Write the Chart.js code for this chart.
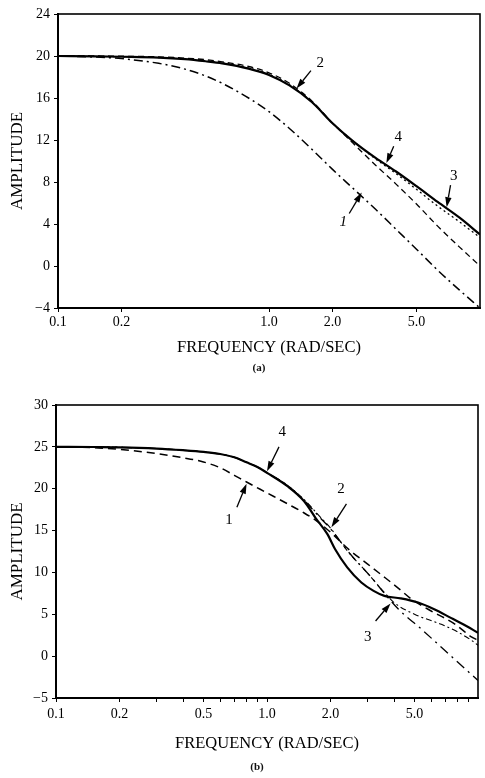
<!DOCTYPE html>
<html><head><meta charset="utf-8">
<script src="https://cdn.jsdelivr.net/npm/chart.js@4"></script>
<style>
html,body{margin:0;padding:0;background:#fff;}
#wrap{position:relative;width:485px;height:778px;overflow:hidden;background:#fff;}
canvas{position:absolute;left:0;}
.cap{position:absolute;font-family:"Liberation Serif","DejaVu Serif",serif;font-size:11px;font-weight:bold;transform:translateX(-50%);color:#111;}
</style></head><body>
<div id="wrap">
<canvas id="ca" width="485" height="380" style="top:0"></canvas>
<canvas id="cb" width="485" height="398" style="top:380px"></canvas>
<div class="cap" style="left:259px;top:361px">(a)</div>
<div class="cap" style="left:257px;top:760px">(b)</div>
</div>
<script>
// ---------- Chart (a) data ----------
const aFreq  = [0.1,0.15,0.2,0.3,0.4,0.5,0.6,0.8,1.0,1.25,1.6,2.0,2.5,3.2,4.0,5.0,6.3,8.0,10];
const a1Amp  = [20,19.9,19.75,19.3,18.75,18.1,17.4,16.0,14.7,13.1,11.1,9.2,7.4,5.4,3.5,1.6,-0.4,-2.3,-4.0];
const a2Amp  = [20,20,19.98,19.92,19.8,19.65,19.45,19.0,18.4,17.4,15.7,13.6,11.7,9.6,7.8,5.9,3.8,1.8,0];
const a3Amp  = [20,19.97,19.93,19.85,19.75,19.55,19.35,18.85,18.25,17.25,15.6,13.6,11.9,10.2,8.8,7.3,5.7,4.2,2.7];
const a4Amp  = [20,19.97,19.93,19.85,19.7,19.5,19.3,18.8,18.2,17.2,15.6,13.6,11.9,10.3,9.0,7.6,6.1,4.6,3.0];
const aTickValues = [0.1,0.2,1.0,2.0,5.0];
const aTickLabels = ["0.1","0.2","1.0","2.0","5.0"];
const aYTicks = [-4,0,4,8,12,16,20,24];

// ---------- Chart (b) data ----------
const b1Freq = [0.1,0.15,0.2,0.3,0.4,0.5,0.6,0.7,0.8,1.0,1.25,1.5,1.73,2.0,2.48,3.0,3.45,4.2,4.85,5.8,7.8,9.3,10];
const b1Amp  = [25,24.9,24.7,24.2,23.7,23.2,22.5,21.6,20.8,19.5,18.2,17.1,16.1,14.8,12.6,11.0,9.8,8.1,6.8,5.6,3.8,2.3,1.9];
const b2Freq = [0.1,0.15,0.2,0.3,0.4,0.5,0.6,0.7,0.8,0.9,1.0,1.25,1.5,1.79,2.0,2.4,3.0,3.6,4.0,5.0,6.7,8.0,9.3,10];
const b2Amp  = [25,24.98,24.95,24.8,24.6,24.4,24.15,23.75,23.15,22.6,21.9,20.4,18.7,16.6,15.3,12.6,9.9,7.6,6.4,5.0,3.8,2.9,1.9,1.3];
const b3Freq = [0.1,0.15,0.2,0.3,0.4,0.5,0.6,0.7,0.8,0.9,1.0,1.25,1.5,1.79,2.0,2.48,3.15,3.6,4.2,5.35,6.95,8.5,10];
const b3Amp  = [25,24.98,24.95,24.8,24.6,24.4,24.15,23.75,23.15,22.6,21.9,20.4,18.6,16.5,15.2,12.2,9.3,7.5,5.6,3.3,0.7,-1.3,-2.9];
const b4Freq = [0.1,0.15,0.2,0.3,0.4,0.5,0.6,0.7,0.8,0.9,1.0,1.25,1.5,1.7,1.93,2.1,2.4,2.8,3.2,3.6,4.3,5.2,6.2,7.4,8.5,10];
const b4Amp  = [25,24.98,24.95,24.8,24.6,24.4,24.15,23.75,23.15,22.6,21.9,20.3,18.5,16.5,14.6,12.8,10.6,8.8,7.8,7.2,6.9,6.4,5.6,4.6,3.8,2.8];
const bTickValues = [0.1,0.2,0.5,1.0,2.0,5.0];
const bTickLabels = ["0.1","0.2","0.5","1.0","2.0","5.0"];
const bMinorTicks = [0.3,0.4,0.6,0.7,0.8,0.9,3,4,6,7,8,9];
const bYTicks = [-5,0,5,10,15,20,25,30];

// curve labels with arrows (data coordinates)
const notesA = [
  {t:"2", lx:1.75, ly:19.3, sx:1.58, sy:18.6, tx:1.35, ty:16.9},
  {t:"4", lx:4.1,  ly:12.3, sx:3.9,  sy:11.4, tx:3.6,  ty:9.8},
  {t:"3", lx:7.5,  ly:8.6,  sx:7.25, sy:7.7,  tx:6.95, ty:5.6},
  {t:"1", lx:2.25, ly:4.2,  sx:2.4,  sy:5.0,  tx:2.75, ty:7.0, italic:true}
];
const notesB = [
  {t:"4", lx:1.18, ly:26.8, sx:1.14, sy:25.0, tx:1.0,  ty:22.1},
  {t:"1", lx:0.66, ly:16.2, sx:0.72, sy:17.8, tx:0.8,  ty:20.6},
  {t:"2", lx:2.24, ly:20.0, sx:2.38, sy:18.2, tx:2.02, ty:15.4},
  {t:"3", lx:3.0,  ly:2.3,  sx:3.27, sy:4.2,  tx:3.85, ty:6.3}
];

const SERIF = '"Liberation Serif","DejaVu Serif",serif';
const pts = (f, v) => f.map((x, i) => ({x: x, y: v[i]}));

const framePlugin = {
  id: 'frame',
  afterDatasetsDraw(chart) {
    const {ctx, chartArea: a} = chart;
    ctx.save();
    ctx.strokeStyle = '#000';
    ctx.lineWidth = 1.6;
    ctx.strokeRect(a.left, a.top, a.right - a.left, a.bottom - a.top);
    ctx.restore();
  }
};
const notePlugin = {
  id: 'notes',
  afterDatasetsDraw(chart, args, opts) {
    const ctx = chart.ctx, xs = chart.scales.x, ys = chart.scales.y;
    ctx.save();
    (opts.items || []).forEach(n => {
      const sx = xs.getPixelForValue(n.sx), sy = ys.getPixelForValue(n.sy);
      const tx = xs.getPixelForValue(n.tx), ty = ys.getPixelForValue(n.ty);
      const ang = Math.atan2(ty - sy, tx - sx);
      const L = 10, W = 3.2;
      const bx = tx - L * Math.cos(ang), by = ty - L * Math.sin(ang);
      ctx.strokeStyle = '#000'; ctx.fillStyle = '#000'; ctx.lineWidth = 1.3;
      ctx.beginPath(); ctx.moveTo(sx, sy); ctx.lineTo(bx, by); ctx.stroke();
      ctx.beginPath();
      ctx.moveTo(tx, ty);
      ctx.lineTo(bx + W * Math.sin(ang), by - W * Math.cos(ang));
      ctx.lineTo(bx - W * Math.sin(ang), by + W * Math.cos(ang));
      ctx.closePath(); ctx.fill();
      ctx.font = (n.italic ? 'italic ' : '') + '15px ' + SERIF;
      ctx.textAlign = 'center'; ctx.textBaseline = 'middle';
      ctx.fillText(n.t, xs.getPixelForValue(n.lx), ys.getPixelForValue(n.ly));
    });
    ctx.restore();
  }
};

function makeChart(id, datasets, o) {
  return new Chart(document.getElementById(id), {
    type: 'line',
    data: {datasets: datasets},
    plugins: [framePlugin, notePlugin],
    options: {
      responsive: false, animation: false, devicePixelRatio: 1,
      layout: {padding: o.pad},
      elements: {point: {radius: 0}, line: {tension: 0.4, cubicInterpolationMode: 'monotone', borderColor: '#000', fill: false}},
      plugins: {legend: {display: false}, tooltip: {enabled: false}, notes: {items: o.notes}},
      scales: {
        x: {
          type: 'logarithmic', min: 0.1, max: 10,
          afterFit: s => { s.height = o.xh; },
          afterBuildTicks: s => { s.ticks = o.xTicks.concat(o.xMinor).sort((p, q) => p - q).map(v => ({value: v})); },
          ticks: {
            autoSkip: false, maxRotation: 0, padding: o.xpad, color: '#000',
            font: {family: SERIF, size: 14},
            callback: v => { const i = o.xTicks.indexOf(v); return i >= 0 ? o.xLabels[i] : ''; }
          },
          grid: {display: true, drawOnChartArea: false, drawTicks: true, tickLength: 4, color: '#000'},
          border: {display: true, color: '#000', width: 2},
          title: {display: true, text: 'FREQUENCY (RAD/SEC)', color: '#000', font: {family: SERIF, size: 16.5}, padding: {top: 0, bottom: 0}}
        },
        y: {
          type: 'linear', min: o.ymin, max: o.ymax,
          afterFit: s => { s.width = o.yw; },
          afterBuildTicks: s => { s.ticks = o.yTicks.map(v => ({value: v})); },
          ticks: {
            padding: 4, color: '#000', font: {family: SERIF, size: 14},
            callback: v => (v < 0 ? '\u2212' + Math.abs(v) : String(v))
          },
          grid: {display: true, drawOnChartArea: false, drawTicks: true, tickLength: 4, color: '#000'},
          border: {display: true, color: '#000', width: 2},
          title: {display: true, text: 'AMPLITUDE', color: '#000', font: {family: SERIF, size: 17}, padding: {top: 7, bottom: 0}}
        }
      }
    }
  });
}

makeChart('ca', [
  {label: '1', data: pts(aFreq, a1Amp), borderWidth: 1.5, borderDash: [9, 4, 2, 4]},
  {label: '2', data: pts(aFreq, a2Amp), borderWidth: 1.3, borderDash: [6, 4]},
  {label: '3', data: pts(aFreq, a3Amp), borderWidth: 1.3, borderDash: [2, 3]},
  {label: '4', data: pts(aFreq, a4Amp), borderWidth: 2.2}
], {pad: {left: 0, right: 5, top: 14, bottom: 22}, xh: 50, yw: 58, xpad: 2,
    ymin: -4, ymax: 24, yTicks: aYTicks, xTicks: aTickValues, xLabels: aTickLabels, xMinor: [], notes: notesA});

makeChart('cb', [
  {label: '1', data: pts(b1Freq, b1Amp), borderWidth: 1.5, borderDash: [8, 5]},
  {label: '2', data: pts(b2Freq, b2Amp), borderWidth: 1.1, borderDash: [6, 3, 2, 3]},
  {label: '3', data: pts(b3Freq, b3Amp), borderWidth: 1.3, borderDash: [10, 5, 2, 5]},
  {label: '4', data: pts(b4Freq, b4Amp), borderWidth: 2.2}
], {pad: {left: 0, right: 7, top: 25, bottom: 24}, xh: 56, yw: 56, xpad: 4,
    ymin: -5, ymax: 30, yTicks: bYTicks, xTicks: bTickValues, xLabels: bTickLabels, xMinor: bMinorTicks, notes: notesB});
</script>
</body></html>
